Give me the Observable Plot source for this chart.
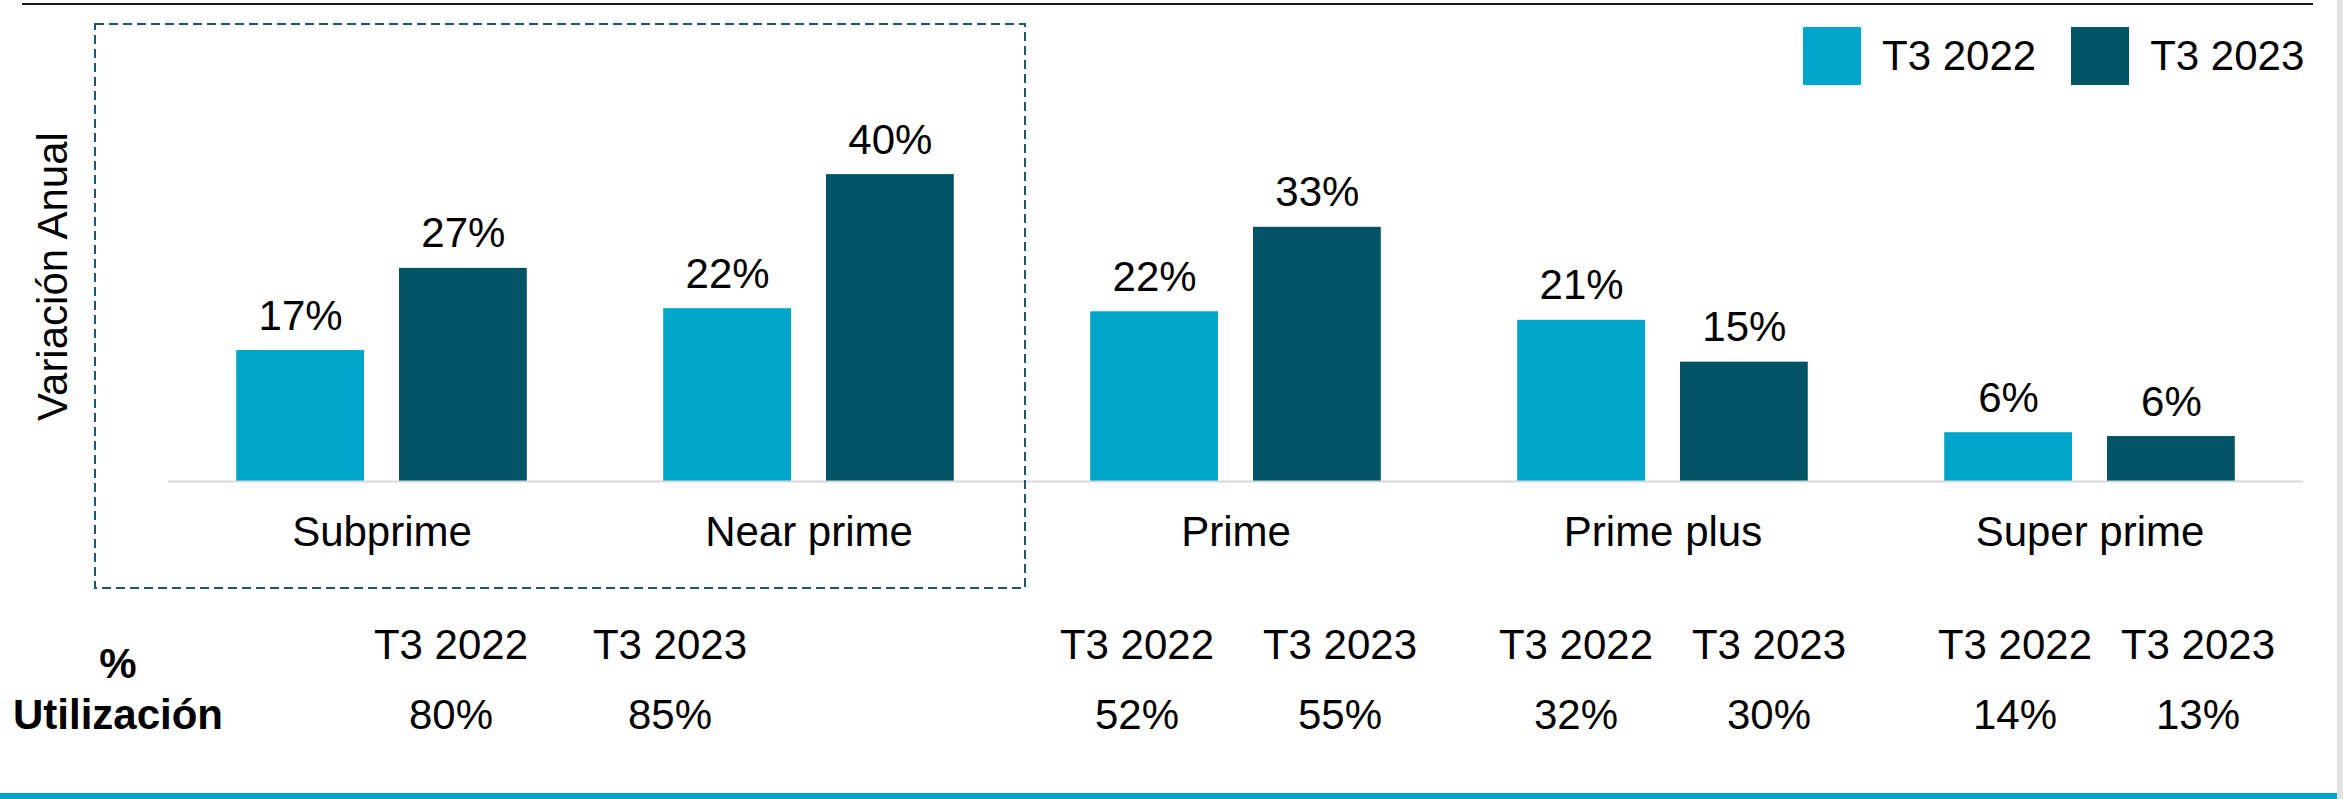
<!DOCTYPE html>
<html><head><meta charset="utf-8">
<script src="https://cdn.jsdelivr.net/npm/d3@7"></script>
<script src="https://cdn.jsdelivr.net/npm/@observablehq/plot@0.6"></script>
<style>
html,body{margin:0;padding:0;background:#fff;}
#wrap{position:relative;width:2343px;height:799px;overflow:hidden;font-family:"Liberation Sans",Arial,sans-serif;color:#000;}
#chart{position:absolute;left:0;top:0;}
#deco{position:absolute;left:0;top:0;pointer-events:none;}
.t{position:absolute;font-size:42px;line-height:42px;white-space:nowrap;transform:translateX(-50%);}
.b{font-weight:bold;}
#legend{position:absolute;left:1803px;top:27px;display:flex;align-items:center;font-size:42px;line-height:42px;}
#legend .sw{width:58px;height:58px;margin-right:21px;}
#legend .lab{margin-right:35px;white-space:nowrap;}
#legend .lab:last-child{margin-right:0;}
</style></head><body>
<div id="wrap"><div id="chart"></div><svg id="deco" width="2343" height="799"></svg><div id="legend"></div></div>
<script>
// ---- data ----
const categories = ["Subprime", "Near prime", "Prime", "Prime plus", "Super prime"];
const periods = ["T3 2022", "T3 2023"];
const values2022 = [16.9, 22.3, 21.9, 20.8, 6.3];
const values2023 = [27.5, 39.6, 32.8, 15.4, 5.8];
const labels2022 = ["17%", "22%", "22%", "21%", "6%"];
const labels2023 = ["27%", "40%", "33%", "15%", "6%"];
const colors = ["#00A6CA", "#005466"];
const yLabel = "Variación Anual";
const utilTitle = ["%", "Utilización"];
const util2022 = ["80%", "52%", "32%", "14%"];
const util2023 = ["85%", "55%", "30%", "13%"];

// ---- layout (positions only) ----
const tableColX = [451, 670, 1137, 1340, 1576, 1769, 2015, 2198];

const rows = categories.flatMap((c, i) => [
  {cat: c, period: periods[0], value: values2022[i], label: labels2022[i]},
  {cat: c, period: periods[1], value: values2023[i], label: labels2023[i]}
]);

const font = '"Liberation Sans", Arial, sans-serif';
const plot = Plot.plot({
  width: 2343, height: 600,
  marginLeft: 166, marginRight: 39, marginTop: 171, marginBottom: 119,
  style: {fontFamily: font, fontSize: "42px", color: "#000", background: "transparent"},
  fx: {domain: categories, padding: 0, label: null},
  x: {domain: periods, paddingInner: 0.215, paddingOuter: 0.419, round: false, axis: null},
  y: {domain: [0, 40], axis: null},
  color: {domain: periods, range: colors},
  marks: [
    Plot.barY(rows, {fx: "cat", x: "period", y: "value", fill: "period"}),
    Plot.ruleY([0], {stroke: "#d9d9d9", strokeWidth: 2}),
    Plot.text(rows, {fx: "cat", x: "period", y: "value", text: "label", lineAnchor: "bottom", dy: -21, fontSize: 42, fill: "#000"}),
    Plot.axisFx({anchor: "bottom", tickSize: 0, tickPadding: 35, fontSize: 42, label: null, fill: "#000"}),
    Plot.text([yLabel], {fx: ["Subprime"], text: d => d, frameAnchor: "left", rotate: -90, dx: -115, dy: -50, fontSize: 42, textAnchor: "middle", lineAnchor: "middle", fill: "#000"})
  ]
});
document.getElementById("chart").appendChild(plot);

// decorations
const deco = d3.select("#deco");
deco.append("line").attr("x1", 22).attr("x2", 2313).attr("y1", 4).attr("y2", 4).attr("stroke", "#1a1a1a").attr("stroke-width", 2);
deco.append("rect").attr("x", 95).attr("y", 24).attr("width", 930).attr("height", 564)
  .attr("fill", "none").attr("stroke", "#1F5673").attr("stroke-width", 2).attr("stroke-dasharray", "9 5");
deco.append("rect").attr("x", 0).attr("y", 793).attr("width", 2338).attr("height", 6).attr("fill", colors[0]);
deco.append("rect").attr("x", 2337).attr("y", 0).attr("width", 6).attr("height", 799).attr("fill", "#e3e3e3");

// legend
const legend = d3.select("#legend");
periods.forEach((p, i) => {
  legend.append("div").attr("class", "sw").style("background", colors[i]);
  legend.append("div").attr("class", "lab").text(p);
});

// utilization table
const wrap = d3.select("#wrap");
wrap.append("div").attr("class", "t b").style("left", "118px").style("top", "643px").text(utilTitle[0]);
wrap.append("div").attr("class", "t b").style("left", "118px").style("top", "694px").text(utilTitle[1]);
util2022.forEach((v, g) => {
  [[periods[0], v], [periods[1], util2023[g]]].forEach(([p, val], k) => {
    const x = tableColX[g * 2 + k];
    wrap.append("div").attr("class", "t").style("left", x + "px").style("top", "624px").text(p);
    wrap.append("div").attr("class", "t").style("left", x + "px").style("top", "694px").text(val);
  });
});
</script>
</body></html>
